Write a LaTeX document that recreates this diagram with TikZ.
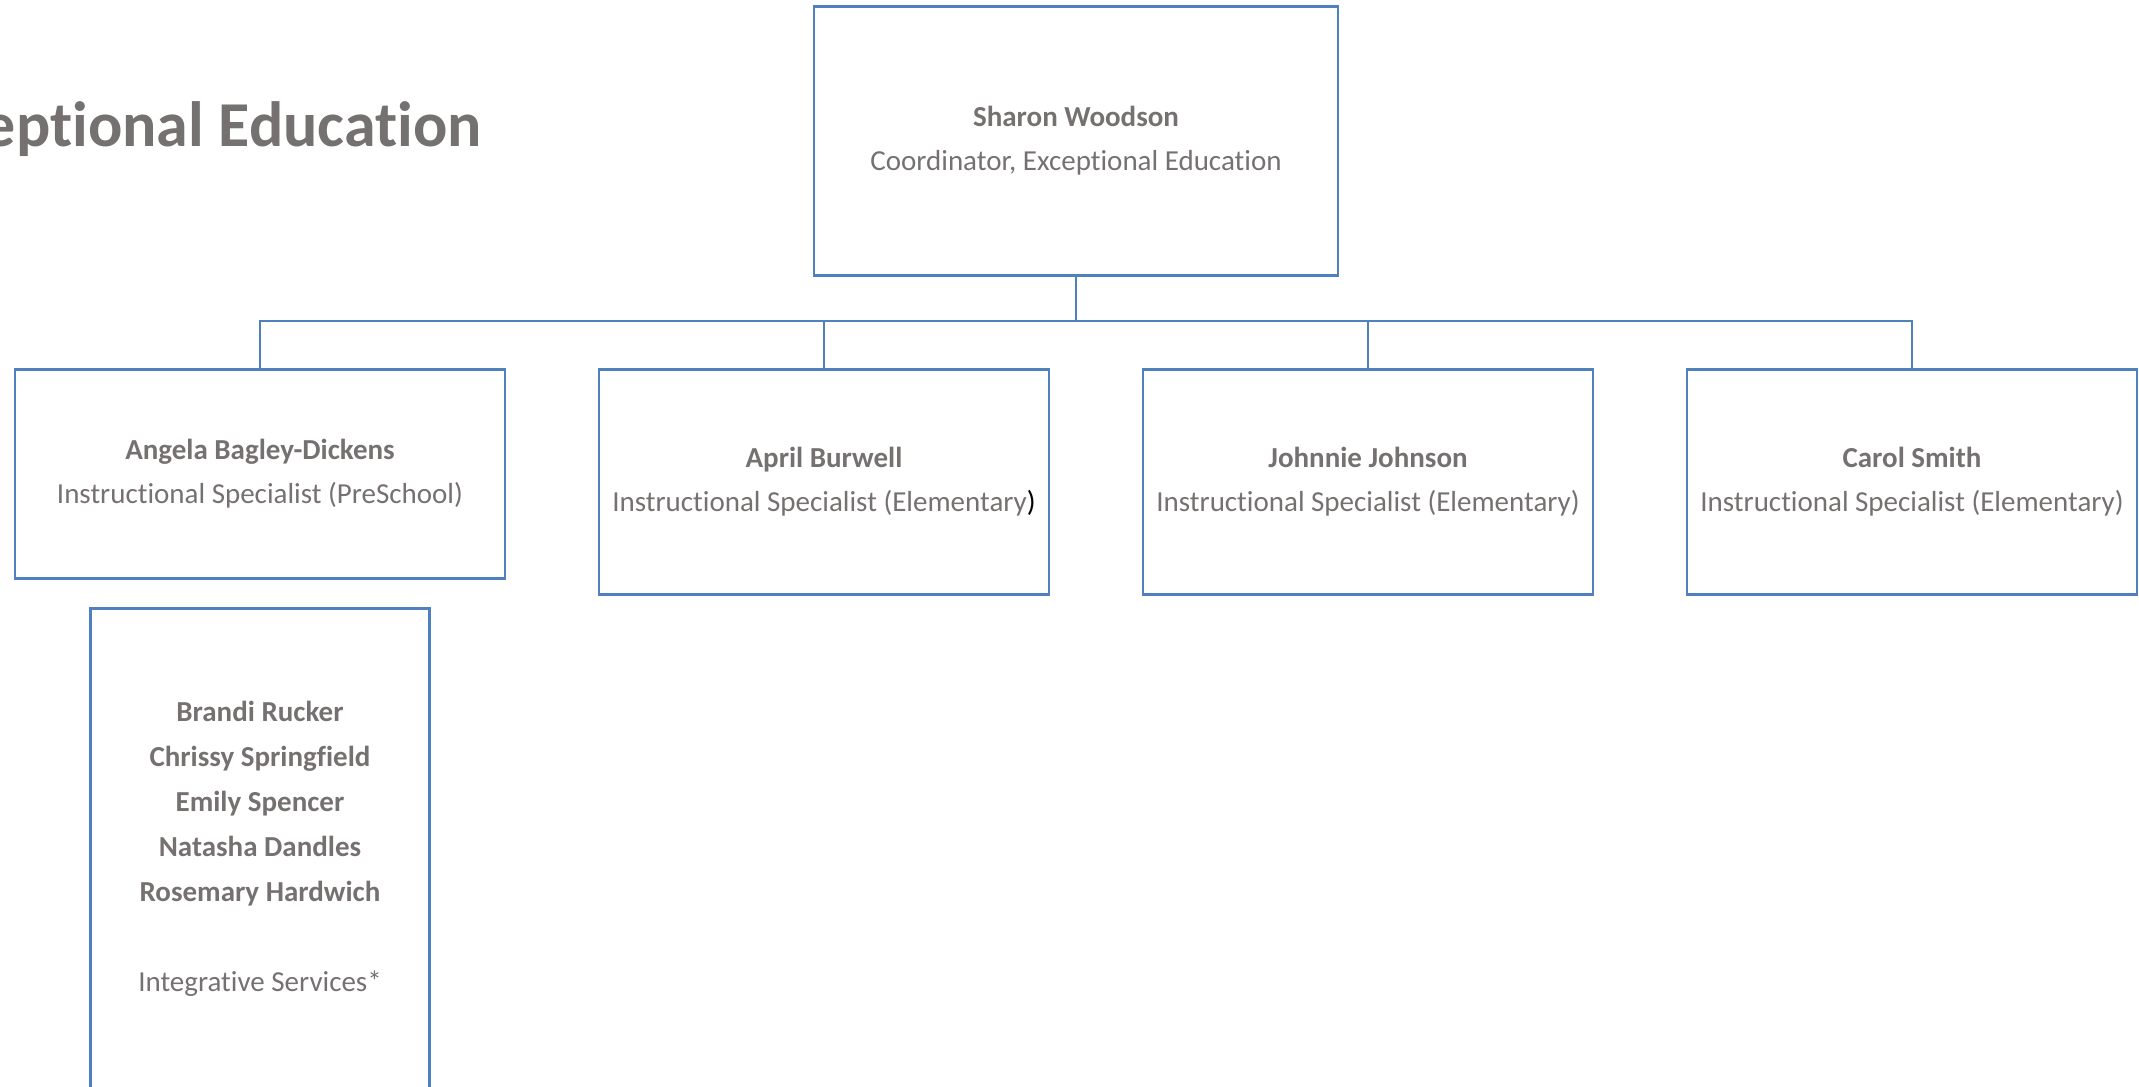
\documentclass[tikz,border=0pt]{standalone}
\usepackage{fontspec}
\setmainfont{Carlito}[Ligatures=NoCommon]
\usetikzlibrary{positioning}

\tikzstyle{block} = [draw=boxblue, line width=1.4pt, rectangle, align=center, text=textgray, font=\fontsize{14.5}{22}\selectfont, inner sep=0pt]
\tikzstyle{head} = [block, minimum width=262pt, minimum height=134.5pt]
\tikzstyle{spec} = [block, anchor=north, minimum width=225pt, minimum height=112.5pt]
\tikzstyle{link} = [draw=boxblue, line width=1.4pt]
\definecolor{boxblue}{RGB}{79,129,189}
\definecolor{textgray}{RGB}{118,113,113}

\begin{document}
\begin{tikzpicture}[x=0.5pt, y=-0.5pt]
	\useasboundingbox (0,0) rectangle (2139,1086);
	\node [anchor=base east, inner sep=0pt, text=textgray, font=\fontsize{32}{38}\selectfont\bfseries] (title) at (482,147) {eptional Education};
	\node [head, anchor=north] (woodson) at (1076,5) {\textbf{Sharon Woodson}\\Coordinator, Exceptional Education};
	\node [spec, minimum width=245pt, minimum height=104.5pt] (bagley) at (260,368) {\textbf{Angela Bagley-Dickens}\\Instructional Specialist (PreSchool)};
	\node [spec] (burwell) at (824,368) {\textbf{April Burwell}\\Instructional Specialist (Elementary\textcolor{black}{)}};
	\node [spec] (johnson) at (1368,368) {\textbf{Johnnie Johnson}\\Instructional Specialist (Elementary)};
	\node [spec] (smith) at (1912,368) {\textbf{Carol Smith}\\Instructional Specialist (Elementary)};
	\node [block, anchor=north, minimum width=169.5pt, minimum height=283pt, text depth=45pt, font=\fontsize{14.5}{22.5}\selectfont] (team) at (260,607) {\textbf{Brandi Rucker}\\\textbf{Chrissy Springfield}\\\textbf{Emily Spencer}\\\textbf{Natasha Dandles}\\\textbf{Rosemary Hardwich}\\[22.5pt]Integrative Services*};

	% Reporting lines
	\coordinate (bus) at (1076,321);
	\draw [link] (woodson.south) -- (bus);
	\foreach \n in {bagley,burwell,johnson,smith}
		\draw [link] (bus) -| (\n.north);
\end{tikzpicture}
\end{document}
